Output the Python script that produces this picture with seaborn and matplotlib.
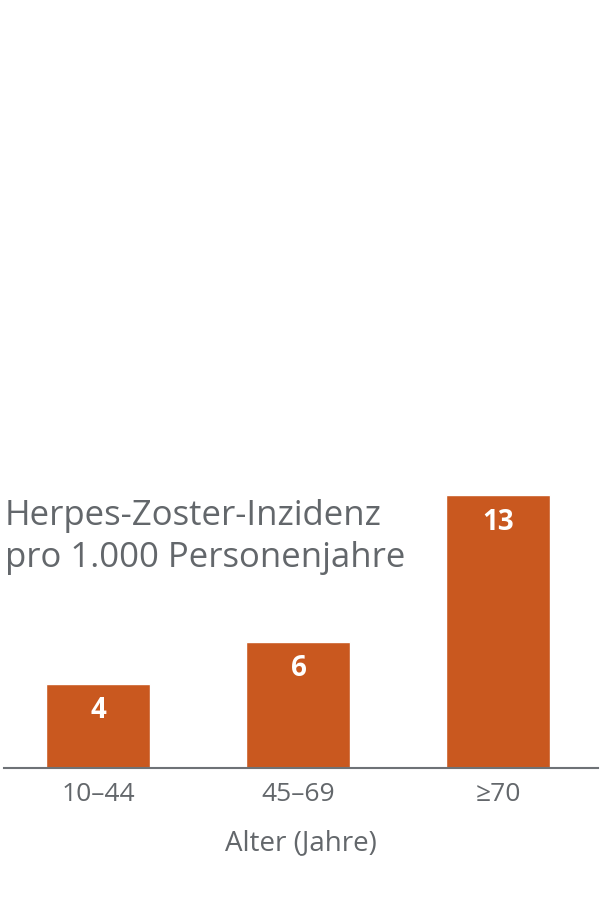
import matplotlib
matplotlib.use("Agg")
import matplotlib.pyplot as plt
import pandas as pd
import seaborn as sns

age_groups = ["10–44", "45–69", "≥70"]
incidence = [4, 6, 13]
title_lines = ["Herpes-Zoster-Inzidenz", "pro 1.000 Personenjahre"]
x_label = "Alter (Jahre)"

bar_color = "#c9581f"
text_color = "#63676b"

sns.set_theme(style="white")
plt.rcParams["font.family"] = ["Open Sans", "DejaVu Sans"]

df = pd.DataFrame({"age": age_groups, "value": incidence})

fig = plt.figure(figsize=(6, 9), dpi=100)
ax = fig.add_axes([4 / 600, (900 - 768) / 900, 594 / 600, 294 / 900])

sns.barplot(data=df, x="age", y="value", color=bar_color, width=0.52,
            saturation=1, ax=ax)

ax.set_xlim(-0.4725, 2.4975)
ax.set_ylim(0, 14)
for s in ["top", "right", "left"]:
    ax.spines[s].set_visible(False)
ax.spines["bottom"].set_color("#6e7276")
ax.spines["bottom"].set_linewidth(1.5)
ax.set_yticks([])
ax.set_ylabel("")
ax.tick_params(axis="x", length=0, pad=10, labelsize=19, labelcolor=text_color)
ax.set_xlabel(x_label, fontsize=20, color=text_color, labelpad=16)

for i, v in enumerate(incidence):
    ax.annotate(str(v), (i, v), xytext=(0, -27), textcoords="offset pixels",
                ha="center", va="center", color="white", fontsize=20,
                fontweight="bold")

fig.text(5 / 600, 1 - 516 / 900, title_lines[0], fontsize=25, color=text_color,
         ha="left", va="center")
fig.text(5 / 600, 1 - 558 / 900, title_lines[1], fontsize=25, color=text_color,
         ha="left", va="center")

fig.savefig("out.png", dpi=100)
